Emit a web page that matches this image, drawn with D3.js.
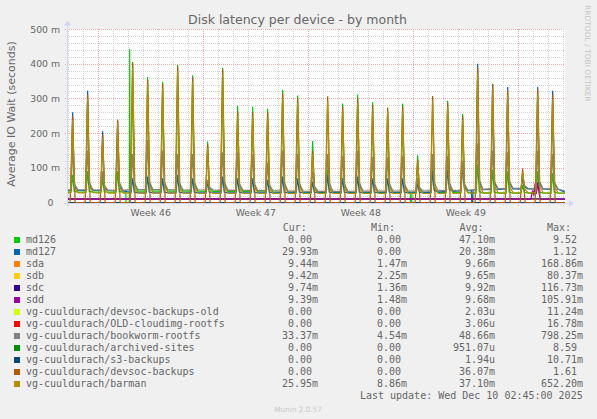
<!DOCTYPE html>
<html>
<head>
<meta charset="utf-8">
<script src="https://cdn.jsdelivr.net/npm/d3@7"></script>
<style>
  body { margin: 0; background: #f0f0f0; }
  svg text { font-family: "DejaVu Sans", sans-serif; fill: #666; }
  svg text.mono { font-family: "DejaVu Sans Mono", monospace; font-size: 10px; }
</style>
</head>
<body>
<script>
// ---- data (values in milli-seconds) ----
var spikeDays = [
  "2025-11-07T07:00", "2025-11-08T07:00", "2025-11-09T07:00", "2025-11-10T07:00",
  "2025-11-11T07:00", "2025-11-12T07:00", "2025-11-13T07:00", "2025-11-14T07:00",
  "2025-11-15T07:00", "2025-11-16T07:00", "2025-11-17T07:00", "2025-11-18T07:00",
  "2025-11-19T07:00", "2025-11-20T07:00", "2025-11-21T07:00", "2025-11-22T07:00",
  "2025-11-23T07:00", "2025-11-24T07:00", "2025-11-25T07:00", "2025-11-26T07:00",
  "2025-11-27T07:00", "2025-11-28T07:00", "2025-11-29T07:00", "2025-11-30T07:00",
  "2025-12-01T07:00", "2025-12-02T07:00", "2025-12-03T07:00", "2025-12-04T07:00",
  "2025-12-05T07:00", "2025-12-06T07:00", "2025-12-07T07:00", "2025-12-08T07:00",
  "2025-12-09T07:00"
];

// md126
var md126Base = [30, 30, 30, 30, 33, 33, 33, 33, 33, 32, 32, 32, 31, 31, 30, 30, 29,
                 29, 29, 29, 29, 29, 29, 30, 29, 29, 29, 27, 27, 27, 27, 27, 27];
var md126Peak = [80, 90, 70, 90, 405, 362, 348, 397, 367, 176, 388, 279, 276, 270, 325, 308, 177,
                 95, 285, 311, 289, 265, 285, 136, 100, 293, 256, 110, 95, 90, 50, 90, 85];
var md126Tail = [32, 32, 31, 32, 55, 58, 55, 56, 55, 42, 56, 52, 52, 50, 55, 54, 45,
                 40, 52, 54, 52, 50, 52, 42, 40, 52, 50, 32, 30, 30, 30, 30, 30];
var md126Extra = [["2025-11-10T20:00", 30], ["2025-11-10T20:30", 0], ["2025-11-11T02:00", 0],
                  ["2025-11-11T02:20", 442], ["2025-11-11T02:50", 33],
                  ["2025-11-29T19:00", 29], ["2025-11-29T19:30", 0], ["2025-11-29T21:30", 0],
                  ["2025-11-29T22:00", 29]];
// md127
var md127Base = [35, 35, 35, 34, 28, 28, 28, 28, 28, 28, 28, 28, 28, 28, 28, 28, 28,
                 28, 28, 28, 28, 28, 28, 28, 30, 32, 34, 37, 38, 39, 39, 39, 38];
var md127Peak = [260, 322, 205, 234, 70, 75, 70, 80, 70, 60, 75, 70, 70, 65, 75, 70, 60,
                 80, 70, 75, 70, 70, 70, 55, 90, 95, 110, 400, 340, 333, 70, 333, 322];
var md127Tail = [48, 50, 42, 48, 30, 30, 30, 30, 30, 30, 30, 30, 30, 30, 30, 30, 30,
                 30, 30, 30, 30, 30, 30, 30, 35, 38, 42, 60, 58, 58, 45, 58, 55];
var md127Extra = [["2025-12-03T21:00", 34], ["2025-12-03T21:30", 0], ["2025-12-03T23:00", 0],
                  ["2025-12-03T23:30", 36], ["2025-12-10T02:45", 30]];
// sda .. sdd (flat lines, one bump on sdd)
var sdaPoints = [["2025-11-06T22:00", 9.5], ["2025-12-10T02:45", 9.4]];
var sdbPoints = [["2025-11-06T22:00", 9.6], ["2025-12-10T02:45", 9.4]];
var sdcPoints = [["2025-11-06T22:00", 10.6], ["2025-12-10T02:45", 10.4]];
var sddPoints = [["2025-11-06T22:00", 10], ["2025-12-07T20:00", 10], ["2025-12-07T23:00", 35],
                 ["2025-12-08T01:00", 20], ["2025-12-08T03:00", 55], ["2025-12-08T05:00", 25],
                 ["2025-12-08T07:00", 58], ["2025-12-08T09:00", 30], ["2025-12-08T11:00", 10],
                 ["2025-12-10T02:45", 9.4]];
// logical volumes that stay at zero
var devsocOldPoints = [["2025-11-06T22:00", 0], ["2025-12-10T02:45", 0]];
var cloudimgPoints = [["2025-11-06T22:00", 0], ["2025-12-10T02:45", 0]];
var archivedPoints = [["2025-11-06T22:00", 0], ["2025-12-10T02:45", 0]];
var s3Points = [["2025-11-06T22:00", 0], ["2025-12-10T02:45", 0]];
// bookworm-rootfs
var bookwormBase = [36, 36, 35, 35, 37, 37, 37, 36, 36, 36, 35, 35, 34, 34, 33, 33, 32,
                    32, 32, 33, 33, 33, 33, 33, 34, 34, 35, 38, 40, 41, 41, 40, 39];
var bookwormPeak = [160, 150, 90, 165, 140, 180, 150, 140, 140, 65, 145, 145, 140, 115, 150, 140, 90,
                    140, 135, 150, 130, 130, 135, 70, 140, 135, 120, 170, 150, 145, 85, 150, 140];
var bookwormTail = [55, 60, 50, 60, 58, 62, 60, 58, 58, 45, 60, 55, 55, 52, 58, 56, 48,
                    58, 55, 58, 55, 55, 55, 45, 58, 58, 55, 65, 62, 62, 50, 62, 60];
var bookwormExtra = [["2025-12-10T02:45", 33]];
// devsoc-backups
var devsocBase = [0, 0, 0, 0, 0, 0, 0, 0, 0, 0, 0, 0, 0, 0, 0, 0, 0,
                  0, 0, 0, 0, 0, 0, 0, 0, 0, 0, 0, 0, 0, 0, 0, 0];
var devsocPeak = [250, 311, 196, 239, 402, 354, 342, 392, 361, 167, 384, 263, 260, 260, 315, 301, 150,
                  306, 277, 301, 282, 274, 277, 124, 307, 287, 249, 389, 342, 325, 98, 327, 311];
// barman
var barmanBase = [28, 28, 27, 27, 27, 27, 27, 27, 26, 26, 26, 26, 26, 26, 26, 26, 26,
                  26, 26, 26, 26, 26, 26, 26, 26, 26, 27, 28, 28, 28, 28, 28, 27];
var barmanPeak = [238, 298, 185, 228, 388, 340, 330, 378, 348, 158, 370, 250, 248, 248, 302, 288, 140,
                  292, 265, 288, 270, 262, 265, 115, 294, 275, 238, 372, 328, 312, 90, 314, 298];
var barmanTail = [42, 48, 38, 44, 42, 46, 48, 44, 45, 35, 46, 42, 44, 40, 46, 46, 38,
                  45, 42, 46, 44, 43, 44, 36, 45, 45, 42, 48, 47, 46, 40, 47, 45];
var barmanExtra = [["2025-12-10T02:45", 26]];

// legend table
var legendNames = ["md126", "md127", "sda", "sdb", "sdc", "sdd",
  "vg-cuuldurach/devsoc-backups-old", "vg-cuuldurach/OLD-cloudimg-rootfs",
  "vg-cuuldurach/bookworm-rootfs", "vg-cuuldurach/archived-sites",
  "vg-cuuldurach/s3-backups", "vg-cuuldurach/devsoc-backups", "vg-cuuldurach/barman"];
var legendColors = ["#00CC00", "#0066B3", "#FF8000", "#FFCC00", "#330099", "#990099",
  "#CCFF00", "#FF0000", "#808080", "#008F00", "#00487D", "#B35A00", "#B38F00"];
var curValues = ["0.00", "29.93m", "9.44m", "9.42m", "9.74m", "9.39m", "0.00", "0.00",
  "33.37m", "0.00", "0.00", "0.00", "25.95m"];
var minValues = ["0.00", "0.00", "1.47m", "2.25m", "1.36m", "1.48m", "0.00", "0.00",
  "4.54m", "0.00", "0.00", "0.00", "8.86m"];
var avgValues = ["47.10m", "20.38m", "9.66m", "9.65m", "9.92m", "9.68m", "2.03u", "3.06u",
  "48.66m", "951.07u", "1.94u", "36.07m", "37.10m"];
var maxValues = ["9.52", "1.12", "168.86m", "80.37m", "116.73m", "105.91m", "11.24m", "16.78m",
  "798.25m", "8.59", "10.71m", "1.61", "652.20m"];
var yTicks = [0, 100, 200, 300, 400, 500];

// ---- layout ----
var W = 597, H = 419;
var plotL = 67, plotR = 565, plotT = 29, plotB = 202.5;
var parse = d3.utcParse("%Y-%m-%dT%H:%M");
var start = parse("2025-11-06T22:00"), end = parse("2025-12-10T02:45");

var x = d3.scaleUtc().domain([start, end]).range([plotL, plotR]);
var y = d3.scaleLinear().domain([0, 500]).range([plotB, plotT]);

// builds the point list of a series with a daily spike
function spikeSeries(base, peak, tail, extra, rise, fall) {
  var pts = [[start, base[0]]];
  spikeDays.forEach(function(d, i) {
    var t = parse(d);
    pts.push([new Date(+t - rise * 36e5), base[i]]);
    pts.push([t, peak[i]]);
    pts.push([new Date(+t + fall * 36e5), tail[i]]);
    pts.push([new Date(+t + (fall + 6) * 36e5), base[i]]);
  });
  (extra || []).forEach(function(e) { pts.push([parse(e[0]), e[1]]); });
  pts.sort(function(a, b) { return a[0] - b[0]; });
  if (pts[pts.length - 1][0] < end) pts.push([end, base[base.length - 1]]);
  return pts;
}
function pointSeries(list) {
  return list.map(function(e) { return [parse(e[0]), e[1]]; });
}

var seriesData = [
  spikeSeries(md126Base, md126Peak, md126Tail, md126Extra, 2.5, 2.5),
  spikeSeries(md127Base, md127Peak, md127Tail, md127Extra, 2.5, 2.5),
  pointSeries(sdaPoints),
  pointSeries(sdbPoints),
  pointSeries(sdcPoints),
  pointSeries(sddPoints),
  pointSeries(devsocOldPoints),
  pointSeries(cloudimgPoints),
  spikeSeries(bookwormBase, bookwormPeak, bookwormTail, bookwormExtra, 2.5, 2.5),
  pointSeries(archivedPoints),
  pointSeries(s3Points),
  spikeSeries(devsocBase, devsocPeak, devsocBase, [], 4, 4),
  spikeSeries(barmanBase, barmanPeak, barmanTail, barmanExtra, 3, 3)
];

var svg = d3.select("body").append("svg")
  .attr("width", W).attr("height", H).style("display", "block");

svg.append("rect").attr("width", W).attr("height", H).attr("fill", "#f0f0f0");
svg.append("rect")
  .attr("x", plotL).attr("y", plotT).attr("width", plotR - plotL).attr("height", plotB - plotT + 1)
  .attr("fill", "#ffffff");

// grid
var grid = svg.append("g").attr("shape-rendering", "crispEdges").attr("stroke-dasharray", "1,1");
d3.range(20, 501, 20).forEach(function(v) {
  var yy = Math.round(y(v)) + 0.5;
  grid.append("line").attr("x1", plotL - 2).attr("x2", plotR).attr("y1", yy).attr("y2", yy)
    .attr("stroke", v % 100 === 0 ? "#eaa8a8" : "#d2d2d2");
});
d3.utcDay.range(start, end).forEach(function(d) {
  var xx = Math.round(x(d)) + 0.5;
  var major = d.getUTCDay() === 0;
  grid.append("line").attr("x1", xx).attr("x2", xx).attr("y1", plotT).attr("y2", plotB + 3)
    .attr("stroke", major ? "#eaa8a8" : "#d2d2d2");
});

// series
svg.append("clipPath").attr("id", "clip").append("rect")
  .attr("x", plotL).attr("y", plotT).attr("width", plotR - plotL).attr("height", plotB - plotT + 1);
var line = d3.line().x(function(d) { return x(d[0]); }).y(function(d) { return y(d[1]); });
svg.append("g").attr("clip-path", "url(#clip)")
  .selectAll("path")
  .data(seriesData)
  .enter()
  .append("path")
  .attr("d", line)
  .attr("fill", "none")
  .attr("stroke", function(d, i) { return legendColors[i]; })
  .attr("stroke-width", 1.2);

// axes
var axisColor = "#CFD6F8";
svg.append("line").attr("x1", plotL - 3).attr("x2", plotR + 5).attr("y1", 203.5).attr("y2", 203.5)
  .attr("stroke", axisColor);
svg.append("path").attr("d", "M" + (plotR + 4) + ",200L" + (plotR + 9) + ",203.5L" + (plotR + 4) + ",207Z")
  .attr("fill", axisColor);
svg.append("line").attr("x1", plotL + 0.5).attr("x2", plotL + 0.5).attr("y1", 206).attr("y2", 24)
  .attr("stroke", axisColor);
svg.append("path").attr("d", "M" + (plotL - 3) + ",25.5L" + (plotL + 0.5) + ",20.5L" + (plotL + 4) + ",25.5Z")
  .attr("fill", axisColor);

// y tick labels
svg.selectAll("text.ytick")
  .data(yTicks)
  .enter()
  .append("text")
  .attr("class", "ytick")
  .attr("x", function(d) { return d === 0 ? 53.5 : 60; })
  .attr("y", function(d) { return y(d) + 3.5; })
  .attr("text-anchor", "end")
  .attr("font-size", 9.3)
  .text(function(d) { return d === 0 ? "0" : d + " m"; });

// week labels (centred on each Sunday-to-Sunday span)
var fmtWeek = d3.utcFormat("%V");
d3.utcSunday.range(d3.utcDay.offset(start, -7), end).forEach(function(s) {
  var c = new Date(+s + 3.5 * 864e5);
  if (c < start || c > end) return;
  svg.append("text").attr("x", x(c)).attr("y", 215.7).attr("text-anchor", "middle")
    .attr("font-size", 9.3).text("Week " + fmtWeek(c));
});

// titles
svg.append("text").attr("x", 297.5).attr("y", 24).attr("text-anchor", "middle")
  .attr("font-size", 12.5).text("Disk latency per device - by month");
svg.append("text").attr("transform", "translate(15,114) rotate(-90)").attr("text-anchor", "middle")
  .attr("font-size", 11).text("Average IO Wait (seconds)");
svg.append("text").attr("transform", "translate(584.5,5) rotate(90)").attr("text-anchor", "start")
  .attr("font-size", 7.5).style("fill", "#c4c4c4").text("RRDTOOL / TOBI OETIKER");
svg.append("text").attr("x", 298).attr("y", 411.5).attr("text-anchor", "middle")
  .attr("font-size", 7.3).style("fill", "#c8c8c8").text("Munin 2.0.57");

// legend
var headers = ["Cur:", "Min:", "Avg:", "Max:"];
var headerX = [282.7, 371, 459.5, 547];
var numEnd = [312, 401, 489, 577];
var columns = [curValues, minValues, avgValues, maxValues];
headers.forEach(function(h, j) {
  svg.append("text").attr("class", "mono").attr("x", headerX[j]).attr("y", 230.7).text(h);
});
var rows = svg.selectAll("g.row")
  .data(legendNames)
  .enter()
  .append("g")
  .attr("class", "row")
  .attr("transform", function(d, i) { return "translate(0," + (243.3 + 12 * i) + ")"; });
rows.append("rect").attr("x", 14).attr("y", -6.3).attr("width", 6).attr("height", 6)
  .attr("fill", function(d, i) { return legendColors[i]; });
rows.append("text").attr("class", "mono").attr("x", 26).attr("y", 0)
  .text(function(d) { return d; });
columns.forEach(function(col, j) {
  rows.append("text").attr("class", "mono").attr("x", numEnd[j]).attr("y", 0)
    .attr("text-anchor", "end")
    .text(function(d, i) { var v = col[i]; return /[a-z]$/.test(v) ? v.slice(0, -1) : v; });
  rows.append("text").attr("class", "mono").attr("x", numEnd[j]).attr("y", 0)
    .text(function(d, i) { var v = col[i]; return /[a-z]$/.test(v) ? v.slice(-1) : ""; });
});
svg.append("text").attr("class", "mono").attr("x", 582.7).attr("y", 399).attr("text-anchor", "end")
  .text("Last update: Wed Dec 10 02:45:00 2025");
</script>
</body>
</html>
